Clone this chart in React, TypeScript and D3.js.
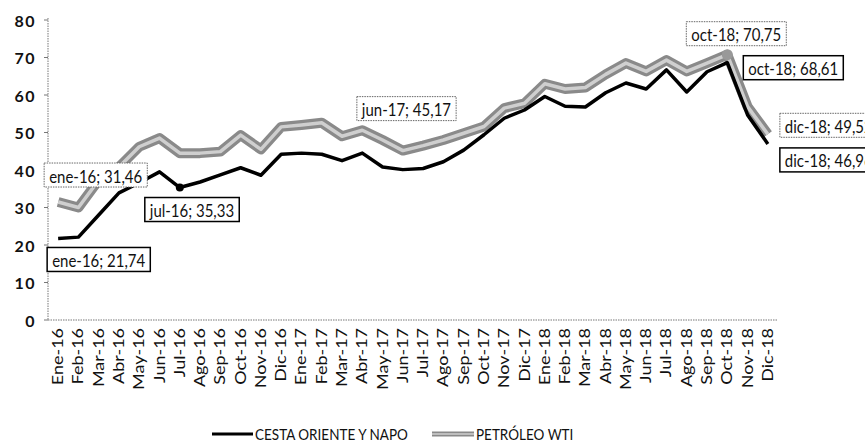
import React from "react";
import * as d3 from "d3";

const months = [
  "Ene-16","Feb-16","Mar-16","Abr-16","May-16","Jun-16","Jul-16","Ago-16","Sep-16","Oct-16","Nov-16","Dic-16",
  "Ene-17","Feb-17","Mar-17","Abr-17","May-17","Jun-17","Jul-17","Ago-17","Sep-17","Oct-17","Nov-17","Dic-17",
  "Ene-18","Feb-18","Mar-18","Abr-18","May-18","Jun-18","Jul-18","Ago-18","Sep-18","Oct-18","Nov-18","Dic-18",
];

const cesta = [
  21.74, 22.1, 28.0, 33.9, 36.6, 39.5, 35.33, 36.8, 38.7, 40.6, 38.6, 44.2,
  44.5, 44.2, 42.5, 44.5, 40.8, 40.1, 40.4, 42.2, 45.3, 49.4, 53.8, 56.0,
  59.6, 57.0, 56.8, 60.6, 63.2, 61.6, 66.7, 60.8, 66.2, 68.61, 54.7, 46.96,
];

const wti = [
  31.46, 30.0, 37.3, 40.8, 46.2, 48.5, 44.5, 44.5, 44.9, 49.3, 45.5, 51.5,
  52.0, 52.6, 49.0, 50.6, 48.0, 45.17, 46.5, 48.0, 49.8, 51.6, 56.5, 57.8,
  63.0, 61.6, 62.0, 65.5, 68.5, 66.3, 69.3, 66.3, 68.5, 70.75, 56.9, 49.52,
];

const yTicks = [0, 10, 20, 30, 40, 50, 60, 70, 80];

const seriesNames = ["CESTA ORIENTE Y NAPO", "PETRÓLEO WTI"];

// annotations: series, index, label, box offset relative to point
const annotations = [
  { s: 1, i: 0, text: "ene-16; 31,46", dx: -14, dy: -39 },
  { s: 0, i: 0, text: "ene-16; 21,74", dx: -11, dy: 9 },
  { s: 0, i: 6, text: "jul-16; 35,33", dx: -35, dy: 10 },
  { s: 1, i: 17, text: "jun-17; 45,17", dx: -46, dy: -54 },
  { s: 1, i: 33, text: "oct-18; 70,75", dx: -41, dy: -33 },
  { s: 0, i: 33, text: "oct-18; 68,61", dx: 16, dy: -7 },
  { s: 1, i: 35, text: "dic-18; 49,52", dx: 12, dy: -21 },
  { s: 0, i: 35, text: "dic-18; 46,96", dx: 12, dy: 4 },
];

const FONT = "Lato, 'Open Sans', sans-serif";

function measure(text: string, font: string) {
  const c = document.createElement("canvas").getContext("2d");
  if (!c) return text.length * 7;
  c.font = font;
  return c.measureText(text).width;
}

export default function App() {
  const W = 865, H = 445;
  const x0 = 48, x1 = 778, yTop = 20, yBot = 320;
  const x = d3.scalePoint<string>().domain(months).range([x0, x1]).padding(0.5);
  const y = d3.scaleLinear().domain([0, 80]).range([yBot, yTop]);
  const line = d3.line<number>().x((_, i) => x(months[i]) as number).y((d) => y(d));
  const data = [cesta, wti];

  return (
    <svg width={W} height={H} style={{ position: "absolute", left: 0, top: 0, background: "#fff" }} fontFamily={FONT}>
      <rect width={W} height={H} fill="#fff" />
      {/* axes */}
      <line x1={x0} x2={x0} y1={yTop - 2} y2={yBot} stroke="#777" strokeWidth={1} strokeDasharray="1.5,1" />
      <line x1={x0} x2={x1} y1={yBot} y2={yBot} stroke="#777" strokeWidth={1} strokeDasharray="1.5,1" />
      {yTicks.map((t) => (
        <g key={t}>
          <line x1={x0 - 4} x2={x0} y1={y(t)} y2={y(t)} stroke="#777" strokeWidth={1} />
          <text x={36} y={y(t)} textAnchor="end" dominantBaseline="central" fontSize={16} fontWeight={700}
            letterSpacing={1.5} fill="#111">{t}</text>
        </g>
      ))}
      {months.map((m) => (
        <text key={m} transform={`translate(${(x(m) as number) + 5},${yBot + 8}) rotate(-90) scale(1.2,1)`}
          textAnchor="end" fontSize={15} fill="#111">{m}</text>
      ))}
      {/* WTI line */}
      <path d={line(wti) || ""} fill="none" stroke="#8a8a8a" strokeWidth={10} strokeLinejoin="round" />
      <path d={line(wti) || ""} fill="none" stroke="#cfcfcf" strokeWidth={3.5} strokeLinejoin="round" />
      <circle cx={x(months[33]) as number} cy={y(wti[33])} r={5.5} fill="#999" />
      {/* Cesta line */}
      <path d={line(cesta) || ""} fill="none" stroke="#000" strokeWidth={3.5} strokeLinejoin="round" />
      <circle cx={x(months[6]) as number} cy={y(cesta[6])} r={4} fill="#000" />
      {/* annotations */}
      {annotations.map((a, k) => {
        const px = x(months[a.i]) as number;
        const py = y(data[a.s][a.i]);
        const tw = measure(a.text, `15px ${FONT}`);
        const bw = tw + 10, bh = 24;
        const bx = px + a.dx, by = py + a.dy;
        return (
          <g key={k}>
            <rect x={bx} y={by} width={bw} height={bh} fill="#fff"
              stroke={a.s === 0 ? "#000" : "#666"} strokeWidth={a.s === 0 ? 1.5 : 1}
              strokeDasharray={a.s === 0 ? undefined : "1.5,1"} />
            <text transform={`translate(${bx + 5},${by + bh / 2 + 1}) scale(1,1.2)`} dominantBaseline="central"
              fontSize={15} fill="#111">{a.text}</text>
          </g>
        );
      })}
      {/* legend */}
      <line x1={212} x2={253} y1={434} y2={434} stroke="#000" strokeWidth={3} />
      <text transform="translate(255,434) scale(1,1.1)" dominantBaseline="central" fontSize={13.5} fill="#111">{seriesNames[0]}</text>
      <line x1={432} x2={474} y1={434} y2={434} stroke="#8a8a8a" strokeWidth={5} />
      <line x1={432} x2={474} y1={434} y2={434} stroke="#cfcfcf" strokeWidth={1.5} />
      <text transform="translate(476,434) scale(1,1.1)" dominantBaseline="central" fontSize={13.5} fill="#111">{seriesNames[1]}</text>
    </svg>
  );
}
